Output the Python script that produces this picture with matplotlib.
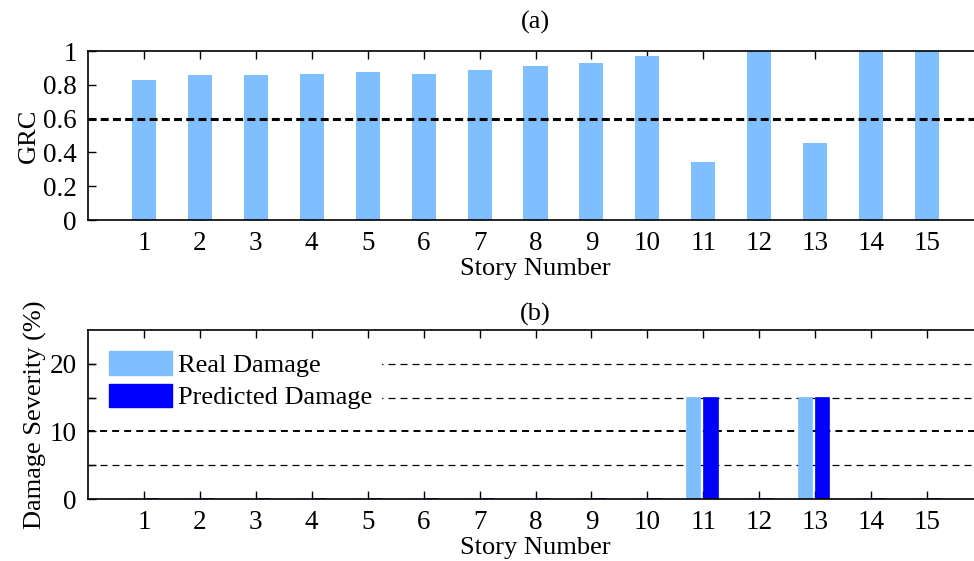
import matplotlib
matplotlib.use("Agg")
import matplotlib.pyplot as plt
from matplotlib.patches import Patch
import numpy as np

plt.rcParams['font.family'] = ['Liberation Serif', 'DejaVu Serif']
plt.rcParams['font.size'] = 19

stories = list(range(1, 16))
grc = [0.828, 0.856, 0.856, 0.866, 0.876, 0.867, 0.886, 0.913, 0.931,
       0.970, 0.341, 1.0, 0.454, 1.0, 1.0]
grc_threshold = 0.6
real_damage = [0, 0, 0, 0, 0, 0, 0, 0, 0, 0, 15, 0, 15, 0, 0]
predicted_damage = [0, 0, 0, 0, 0, 0, 0, 0, 0, 0, 15, 0, 15, 0, 0]

light = '#80BFFF'
dark = '#0000FF'

fig = plt.figure(figsize=(9.74, 5.61), dpi=100)
ax1 = fig.add_axes([0.0903, 0.6078, 0.919, 0.3012])
ax2 = fig.add_axes([0.0903, 0.1105, 0.919, 0.3012])

x = np.array(stories)

# (a) GRC per story
ax1.bar(x, grc, width=0.43, color=light, zorder=2)
ax1.axhline(grc_threshold, color='black', lw=2.2, ls=(0, (2.6, 1.4)), zorder=3)
ax1.set_xlim(0, 16)
ax1.set_ylim(0, 1)
ax1.set_yticks([0, 0.2, 0.4, 0.6, 0.8, 1])
ax1.set_yticklabels(['0', '0.2', '0.4', '0.6', '0.8', '1'])
ax1.set_ylabel('GRC', labelpad=2)
ax1.set_title('(a)', fontsize=19, pad=16)

# (b) real vs predicted damage
w = 0.238
ax2.bar(x - 0.175, real_damage, width=w, color=light, edgecolor=light, lw=1.2, zorder=2)
ax2.bar(x + 0.135, predicted_damage, width=w, color=dark, edgecolor=dark, lw=1.2, zorder=2)
for yv in (5, 15, 20):
    ax2.axhline(yv, color='black', lw=0.9, ls=(0, (5.6, 4.0)), zorder=1)
ax2.axhline(10, color='black', lw=1.4, ls=(0, (3.6, 2.6)), zorder=1)
ax2.set_xlim(0, 16)
ax2.set_ylim(0, 25)
ax2.set_yticks([0, 10, 20])
ax2.set_yticks([5, 15], minor=True)
ax2.set_ylabel('Damage Severity (%)', labelpad=2)
ax2.set_title('(b)', fontsize=19, pad=7)

handles = [Patch(facecolor=light, edgecolor=light, label='Real Damage'),
           Patch(facecolor=dark, edgecolor=dark, label='Predicted Damage')]
leg = ax2.legend(handles=handles, loc='upper left', frameon=True, fancybox=False,
                 edgecolor='white', framealpha=1, handlelength=2.4, handleheight=1.0,
                 handletextpad=0.2, labelspacing=0.25, borderaxespad=0.45,
                 borderpad=0.35, fontsize=19)
leg.set_zorder(5)

for ax in (ax1, ax2):
    ax.set_xticks(stories)
    ax.set_xlabel('Story Number', labelpad=1)
    ax.tick_params(direction='in', top=True, right=False, length=6, width=1,
                   pad=8, labelsize=19.5)
    ax.tick_params(which='minor', direction='in', length=6, width=1, right=False)
    for s in ax.spines.values():
        s.set_linewidth(1.2)
        s.set_zorder(4)

fig.savefig('out.png', dpi=100)
